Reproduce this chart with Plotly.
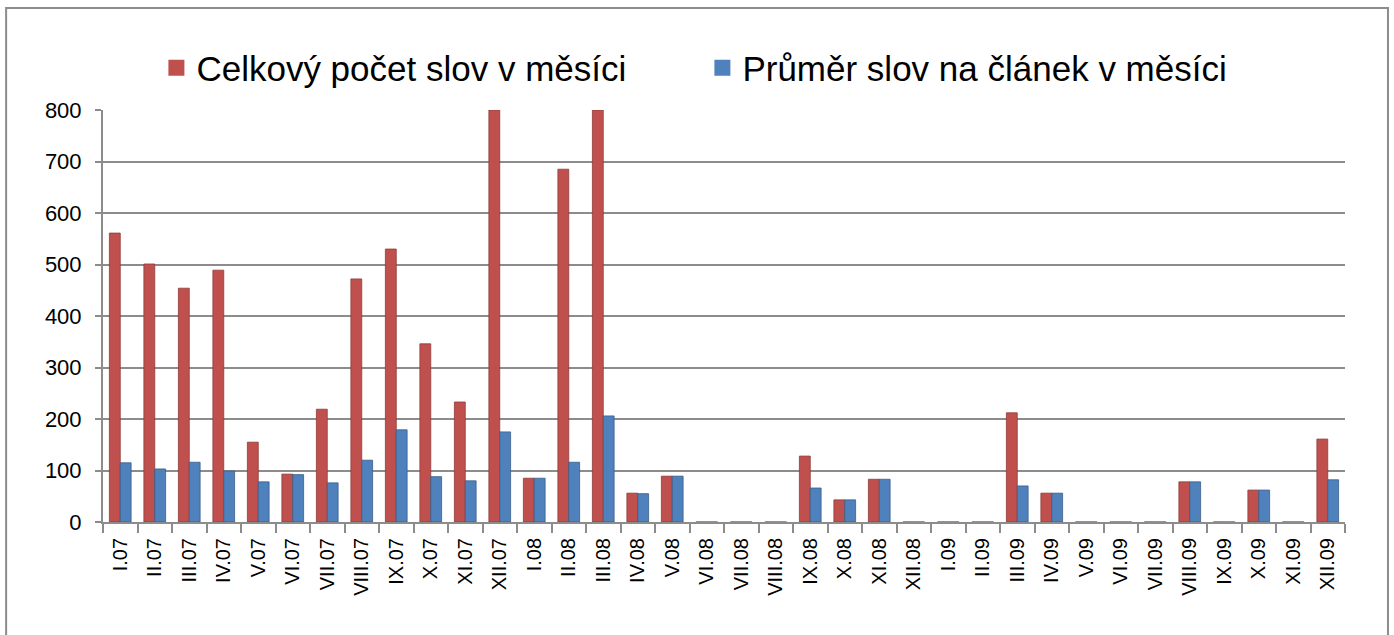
import plotly.graph_objects as go

months = ["I.07", "II.07", "III.07", "IV.07", "V.07", "VI.07", "VII.07", "VIII.07", "IX.07", "X.07", "XI.07", "XII.07",
          "I.08", "II.08", "III.08", "IV.08", "V.08", "VI.08", "VII.08", "VIII.08", "IX.08", "X.08", "XI.08", "XII.08",
          "I.09", "II.09", "III.09", "IV.09", "V.09", "VI.09", "VII.09", "VIII.09", "IX.09", "X.09", "XI.09", "XII.09"]

celkovy = [561, 501, 454, 489, 155, 93, 219, 472, 530, 346, 233, 800,
           85, 685, 800, 56, 89, 0, 0, 0, 128, 43, 83, 0,
           0, 0, 212, 56, 0, 0, 0, 78, 0, 62, 0, 161]

prumer = [115, 103, 116, 99, 78, 92, 76, 120, 179, 88, 80, 175,
          85, 116, 206, 55, 89, 0, 0, 0, 66, 43, 83, 0,
          0, 0, 70, 56, 0, 0, 0, 78, 0, 62, 0, 82]

y_ticks = [0, 100, 200, 300, 400, 500, 600, 700, 800]

names = ["Celkový počet slov v měsíci", "Průměr slov na článek v měsíci"]

red = "#C0504D"
blue = "#4F81BD"
grid = "#8C8C8C"

fig = go.Figure()
fig.add_trace(go.Bar(x=months, y=celkovy, name=names[0], showlegend=False, legendgroup="a",
                     marker=dict(color=red, line=dict(color="#8E3A37", width=0.8))))
fig.add_trace(go.Bar(x=months, y=prumer, name=names[1], showlegend=False, legendgroup="b",
                     marker=dict(color=blue, line=dict(color="#385D8A", width=0.8))))
# legend entries with larger square swatches
fig.add_trace(go.Scatter(x=[None], y=[None], mode="markers", name=names[0], legendgroup="a",
                         marker=dict(symbol="square", size=22, color=red)))
fig.add_trace(go.Scatter(x=[None], y=[None], mode="markers", name=names[1], legendgroup="b",
                         marker=dict(symbol="square", size=22, color=blue)))

fig.update_layout(
    width=1394, height=635,
    margin=dict(l=103, r=49, t=110, b=113, autoexpand=False),
    paper_bgcolor="white", plot_bgcolor="white",
    barmode="group", bargap=0.37, bargroupgap=0,
    font=dict(family="Liberation Sans, Arial, sans-serif", color="black"),
    legend=dict(orientation="h", x=0.043, xanchor="left", y=1.102, yanchor="middle",
                font=dict(size=35, family="Liberation Sans, Arial, sans-serif"),
                itemwidth=30, traceorder="normal", entrywidth=501, entrywidthmode="pixels"),
    showlegend=True,
)
fig.update_yaxes(range=[0, 800], tickvals=y_ticks, showgrid=True, gridcolor=grid, gridwidth=2,
                 showline=True, linecolor=grid, linewidth=2, ticks="outside", ticklen=6,
                 tickcolor=grid, tickwidth=2, tickfont=dict(size=22), zeroline=False,
                 ticklabelstandoff=9)
fig.update_xaxes(type="category", showline=True, linecolor=grid, linewidth=2,
                 ticks="outside", tickson="boundaries", ticklen=9, tickcolor=grid, tickwidth=2,
                 tickangle=-90, tickfont=dict(size=20), ticklabelstandoff=6)

fig.add_shape(type="rect", xref="paper", yref="paper", x0=-0.078, x1=1.0346, y0=-0.35, y1=1.2476,
              line=dict(color="#8C8C8C", width=2), fillcolor="rgba(0,0,0,0)", layer="below")

fig.write_html("out.html", config={"displayModeBar": False},
               post_script="document.body.style.margin='0';")
